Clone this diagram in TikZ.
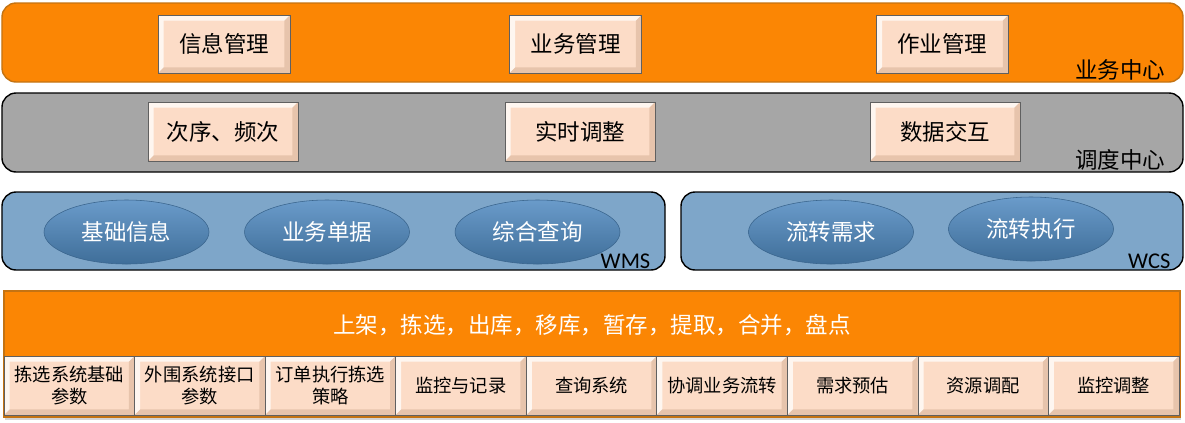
\documentclass[tikz,border=0pt]{standalone}
\usepackage{fontspec}
\setmainfont{Noto Sans CJK SC}
\newfontfamily\latinfont{Carlito}
\usetikzlibrary{shapes.geometric,shadows}
\definecolor{bizOrange}{HTML}{FB8604}
\definecolor{bizEdge}{HTML}{C47312}
\definecolor{peach}{HTML}{FCDCC7}
\definecolor{peachDark}{HTML}{D9B49A}
\definecolor{midGray}{HTML}{A6A6A6}
\definecolor{wmsBlue}{HTML}{7EA6C9}
\definecolor{ovalTop}{HTML}{6A9BCA}
\definecolor{ovalBot}{HTML}{3F6E99}
\definecolor{ovalEdge}{HTML}{3A658D}

\begin{document}
\begin{tikzpicture}[
  band/.style={rounded corners=10pt,line width=1pt,inner sep=0pt},
  bevel/.style={fill=peach,draw=gray!75!black,inner sep=0pt,align=center,
    path picture={
      \fill[white,opacity=.75] (path picture bounding box.south west) -- (path picture bounding box.north west)
        -- (path picture bounding box.north east) -- ++(-4pt,-4pt)
        -| ([shift={(4pt,4pt)}]path picture bounding box.south west) -- cycle;
      \fill[peachDark,opacity=.6] (path picture bounding box.south west) -- (path picture bounding box.south east)
        -- (path picture bounding box.north east) -- ++(-4pt,-4pt)
        |- ([shift={(4pt,4pt)}]path picture bounding box.south west) -- cycle;
    }},
  topbox/.style={bevel,minimum width=3.3cm,minimum height=1.45cm,font=\fontsize{16}{18}\selectfont},
  midbox/.style={bevel,minimum width=3.75cm,minimum height=1.475cm,font=\fontsize{16}{18}\selectfont},
  cell/.style={bevel,minimum width=3.264cm,minimum height=1.475cm,font=\fontsize{13}{15}\selectfont},
  oval/.style={ellipse,draw=ovalEdge,top color=ovalTop,bottom color=ovalBot,text=white,
    minimum width=4.125cm,minimum height=1.6cm,inner sep=0pt,font=\fontsize{16}{18}\selectfont},
  tag/.style={anchor=south east,inner sep=1pt,font=\fontsize{16}{18}\selectfont}
]
  \useasboundingbox (0,0) rectangle (29.625,-10.55);

  \node[band,draw=bizEdge,fill=bizOrange,minimum width=29.525cm,minimum height=1.975cm] (biz) at (14.8125,-1.0625) {};
  \node[topbox] (info) at (5.6,-1.1) {信息管理};
  \node[topbox] (bizmgmt) at (14.39,-1.1) {业务管理};
  \node[topbox] (job) at (23.56,-1.1) {作业管理};
  \node[tag] (bizlabel) at (29.175,-2.05) {业务中心};

  \node[band,draw=black,fill=midGray,minimum width=29.525cm,minimum height=1.975cm] (sched) at (14.8125,-3.3125) {};
  \node[midbox] (order) at (5.575,-3.2875) {次序、频次};
  \node[midbox] (adjust) at (14.5,-3.2875) {实时调整};
  \node[midbox] (exchange) at (23.625,-3.2875) {数据交互};
  \node[tag] (schedlabel) at (29.175,-4.3) {调度中心};

  \node[band,draw=black,fill=wmsBlue,minimum width=16.575cm,minimum height=1.95cm] (wms) at (8.3375,-5.775) {};
  \node[band,draw=black,fill=wmsBlue,minimum width=12.55cm,minimum height=1.95cm] (wcs) at (23.3,-5.775) {};
  \node[oval] (basic) at (3.1625,-5.8) {基础信息};
  \node[oval] (docs) at (8.175,-5.8) {业务单据};
  \node[oval] (query) at (13.4375,-5.8) {综合查询};
  \node[oval] (demand) at (20.775,-5.8) {流转需求};
  \node[oval] (exec) at (25.775,-5.725) {流转执行};
  \node[tag,font=\latinfont\fontsize{16}{18}\selectfont] (wmslabel) at (16.3,-6.75) {WMS};
  \node[tag,font=\latinfont\fontsize{16}{18}\selectfont] (wcslabel) at (29.3,-6.75) {WCS};

  \node[draw=bizEdge,fill=bizOrange,line width=1pt,minimum width=29.4cm,minimum height=3.15cm,inner sep=0pt,
    drop shadow={opacity=.35,shadow xshift=1pt,shadow yshift=-2pt}] (base) at (14.8,-8.85) {};
  \node[fill=bizOrange,minimum width=29.3cm,minimum height=1.55cm,inner sep=0pt,text=white,
    font=\fontsize{16}{18}\selectfont] (ops) at (14.8,-8.13) {上架，拣选，出库，移库，暂存，提取，合并，盘点};
  \node[cell] (c1) at (1.7325,-9.6375) {拣选系统基础\\[1pt]参数};
  \node[cell] (c2) at (4.995,-9.6375) {外围系统接口\\[1pt]参数};
  \node[cell] (c3) at (8.26,-9.6375) {订单执行拣选\\[1pt]策略};
  \node[cell] (c4) at (11.52,-9.6375) {监控与记录};
  \node[cell] (c5) at (14.79,-9.6375) {查询系统};
  \node[cell] (c6) at (18.05,-9.6375) {协调业务流转};
  \node[cell] (c7) at (21.315,-9.6375) {需求预估};
  \node[cell] (c8) at (24.58,-9.6375) {资源调配};
  \node[cell] (c9) at (27.84,-9.6375) {监控调整};
\end{tikzpicture}
\end{document}
